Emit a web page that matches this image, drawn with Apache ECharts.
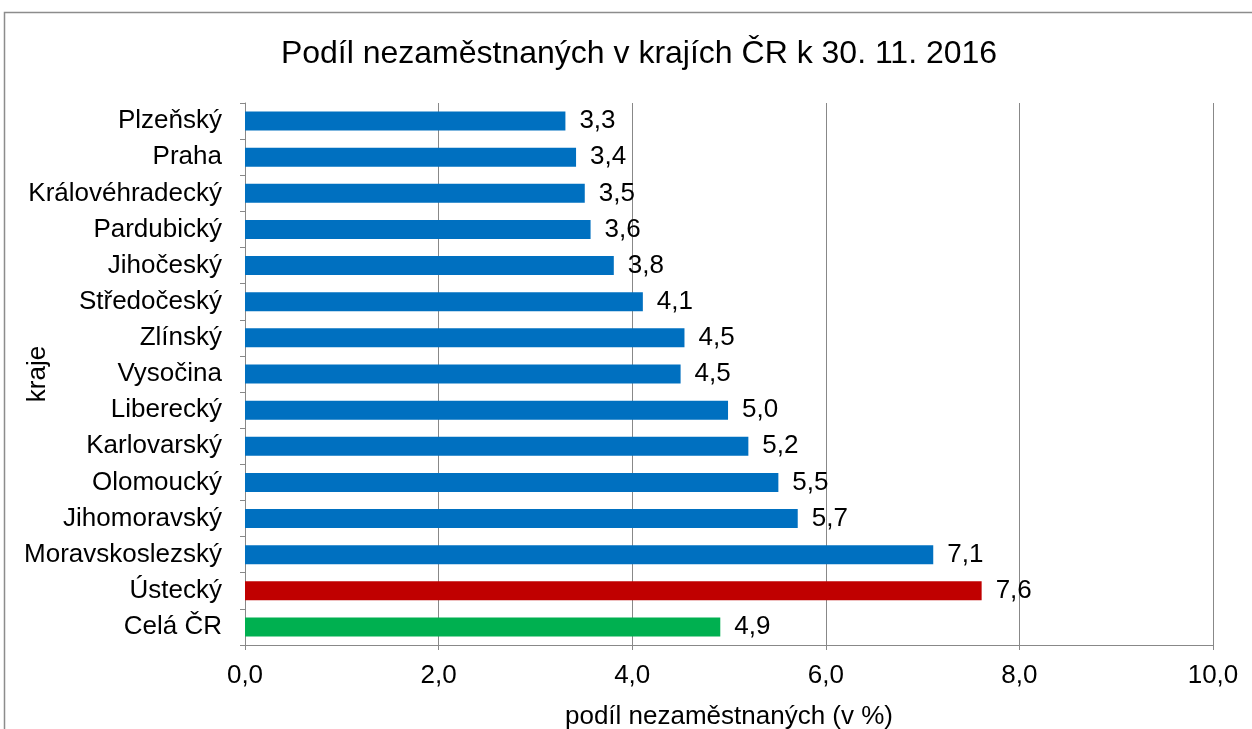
<!DOCTYPE html>
<html><head><meta charset="utf-8">
<script src="https://cdn.jsdelivr.net/npm/echarts@6/dist/echarts.min.js"></script>
<style>html,body{margin:0;padding:0;background:#fff}#c{width:1252px;height:729px}</style>
</head><body><div id="c"></div>
<script>
const categories = ["Plzeňský","Praha","Královéhradecký","Pardubický","Jihočeský","Středočeský","Zlínský","Vysočina","Liberecký","Karlovarský","Olomoucký","Jihomoravský","Moravskoslezský","Ústecký","Celá ČR"];
const values = [3.31,3.42,3.51,3.57,3.81,4.11,4.54,4.50,4.99,5.20,5.51,5.71,7.11,7.61,4.91];
const barColors = ["#0070C0","#0070C0","#0070C0","#0070C0","#0070C0","#0070C0","#0070C0","#0070C0","#0070C0","#0070C0","#0070C0","#0070C0","#0070C0","#C00000","#00B050"];
const xTicks = [0,2,4,6,8,10];
const font = "'Liberation Sans', Arial, sans-serif";
const chart = echarts.init(document.getElementById('c'));
chart.setOption({
  animation:false,
  textStyle:{fontFamily:font},
  graphic:[{type:'rect',shape:{x:4.5,y:12.5,width:1300,height:800},style:{fill:'none',stroke:'#8c8c8c',lineWidth:1.5},silent:true}],
  title:{text:'Podíl nezaměstnaných v krajích ČR k 30. 11. 2016',left:634,textAlign:'center',top:33,textStyle:{fontFamily:font,fontSize:32,fontWeight:'normal',color:'#000'}},
  grid:{left:245,right:39,top:103,bottom:84,containLabel:false,outerBoundsMode:'none'},
  xAxis:{type:'value',min:xTicks[0],max:xTicks[xTicks.length-1],interval:2,
    name:'podíl nezaměstnaných (v %)',nameLocation:'middle',nameGap:59,nameMoveOverlap:false,
    nameTextStyle:{fontFamily:font,fontSize:26,color:'#000'},
    axisLine:{show:true,lineStyle:{color:'#888',width:1}},
    axisTick:{show:true,length:5,lineStyle:{color:'#888'}},
    axisLabel:{fontFamily:font,fontSize:26,color:'#000',margin:18,formatter:v=>v.toFixed(1).replace('.',',')},
    splitLine:{show:true,lineStyle:{color:'#888',width:1}}},
  yAxis:{type:'category',data:categories,inverse:true,
    name:'kraje',nameLocation:'middle',nameGap:194,nameRotate:90,nameMoveOverlap:false,
    nameTextStyle:{fontFamily:font,fontSize:26,color:'#000'},
    axisLine:{show:true,lineStyle:{color:'#888',width:1}},
    axisTick:{show:true,length:5,lineStyle:{color:'#888'}},
    axisLabel:{fontFamily:font,fontSize:26,color:'#000',margin:23}},
  series:[{type:'bar',barWidth:19,
    data:values.map((v,i)=>({value:v,itemStyle:{color:barColors[i]}})),
    label:{show:true,position:'right',distance:14,fontFamily:font,fontSize:26,color:'#000',
      formatter:p=>p.value.toFixed(1).replace('.',',')}}]
});
</script></body></html>
